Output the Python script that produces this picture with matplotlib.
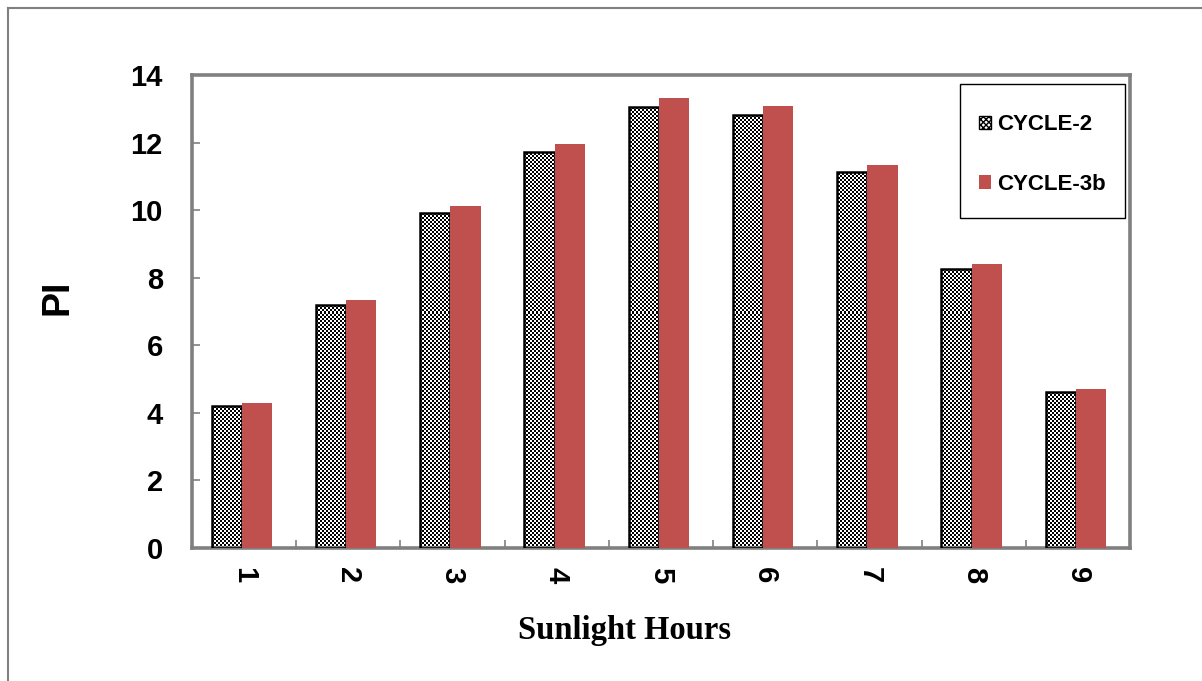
import numpy as np
import matplotlib
matplotlib.use("Agg")
import matplotlib.pyplot as plt
from matplotlib.path import Path
from matplotlib.patches import Rectangle
from matplotlib.legend_handler import HandlerPatch
from matplotlib.lines import Line2D

categories = ["1", "2", "3", "4", "5", "6", "7", "8", "9"]
cycle2 = [4.20, 7.19, 9.91, 11.72, 13.05, 12.81, 11.13, 8.26, 4.62]
cycle3b = [4.29, 7.34, 10.12, 11.96, 13.32, 13.08, 11.33, 8.40, 4.71]
series_names = ["CYCLE-2", "CYCLE-3b"]
yticks = [0, 2, 4, 6, 8, 10, 12, 14]

W, H = 1202, 681
fig = plt.figure(figsize=(W / 100, H / 100), dpi=100)
L, R, T, B = 192, 1130, 75, 548
ax = fig.add_axes([L / W, 1 - B / H, (R - L) / W, (B - T) / H])

x = np.arange(1, len(categories) + 1)
bw = 0.29
red = "#C0504D"
gray = "#808080"

ax.set_xlim(0.5, len(categories) + 0.5)
ax.set_ylim(0, 14)

bars2 = ax.bar(x - bw / 2 - 0.02, cycle2, bw, facecolor="none", edgecolor="black",
               linewidth=1.8, zorder=3, label=series_names[0])
bars3 = ax.bar(x + bw / 2 - 0.02, cycle3b, bw, color=red, edgecolor="none",
               zorder=3, label=series_names[1])

# checkerboard fill for CYCLE-2 bars
nx, ny = (R - L) // 2, (B - T) // 2
checker = (np.indices((ny, nx)).sum(axis=0) % 2).astype(float)
img = ax.imshow(checker, cmap="gray", extent=(0.5, len(categories) + 0.5, 0, 14),
                aspect="auto", interpolation="nearest", zorder=2, vmin=0, vmax=1)
paths = [p.get_path().transformed(p.get_patch_transform()) for p in bars2]
img.set_clip_path(Path.make_compound_path(*paths), ax.transData)

# spines
for s in ax.spines.values():
    s.set_color(gray)
    s.set_linewidth(2.6)

ax.set_yticks(yticks)
ax.set_yticklabels([str(v) for v in yticks])
ax.tick_params(axis="y", direction="in", length=6, width=1.2, color=gray,
               labelsize=21, pad=21)
ax.set_xticks(np.arange(1.5, len(categories) + 0.6, 1.0))
ax.set_xticklabels([])
ax.set_xticks(x, minor=True)
ax.set_xticklabels(categories, minor=True, rotation=-90)
ax.tick_params(axis="x", which="major", direction="in", length=6, width=1.2, color=gray)
ax.tick_params(axis="x", which="minor", length=0, labelsize=21, pad=14)
for lab in ax.get_yticklabels() + ax.get_xticklabels(minor=True):
    lab.set_fontfamily("Liberation Sans")
    lab.set_fontweight("bold")

fig.text(58 / W, 1 - 297 / H, "PI", rotation=90, ha="center", va="center",
         fontsize=27, fontweight="bold", family="Liberation Sans")
fig.text(625 / W, 1 - 631 / H, "Sunlight Hours", ha="center", va="center",
         fontsize=23.5, fontweight="bold", family="Liberation Serif")


class CheckerHandler(HandlerPatch):
    def create_artists(self, legend, orig_handle, xdescent, ydescent, width,
                       height, fontsize, trans):
        r = Rectangle((-xdescent, -ydescent), width, height, facecolor="white",
                      edgecolor="black", hatch="xxxxxx", linewidth=1.0,
                      transform=trans)
        return [r]


# legend frame
fig.add_artist(Rectangle((960 / W, 1 - 218 / H), 165 / W, 134 / H,
                         transform=fig.transFigure, facecolor="white",
                         edgecolor="black", linewidth=1.0, zorder=5))

leg = ax.legend(handles=[bars2, bars3], labels=series_names,
                handler_map={bars2: CheckerHandler()},
                loc="upper left", bbox_to_anchor=(979 / W, 1 - 114.5 / H),
                bbox_transform=fig.transFigure, borderaxespad=0,
                frameon=False,
                handlelength=0.55, handleheight=0.55, handletextpad=0.25,
                labelspacing=1.72, borderpad=0,
                prop={"family": "Liberation Sans", "weight": "bold", "size": 16})
leg.set_zorder(6)
leg.remove()
fig.add_artist(leg)

# outer border (left & top visible)
fig.add_artist(Line2D([8 / W, 8 / W], [0, 1 - 8 / H], transform=fig.transFigure,
                      color=gray, linewidth=1.5))
fig.add_artist(Line2D([8 / W, 1], [1 - 8 / H, 1 - 8 / H], transform=fig.transFigure,
                      color=gray, linewidth=1.5))

fig.savefig("out.png", dpi=100)
